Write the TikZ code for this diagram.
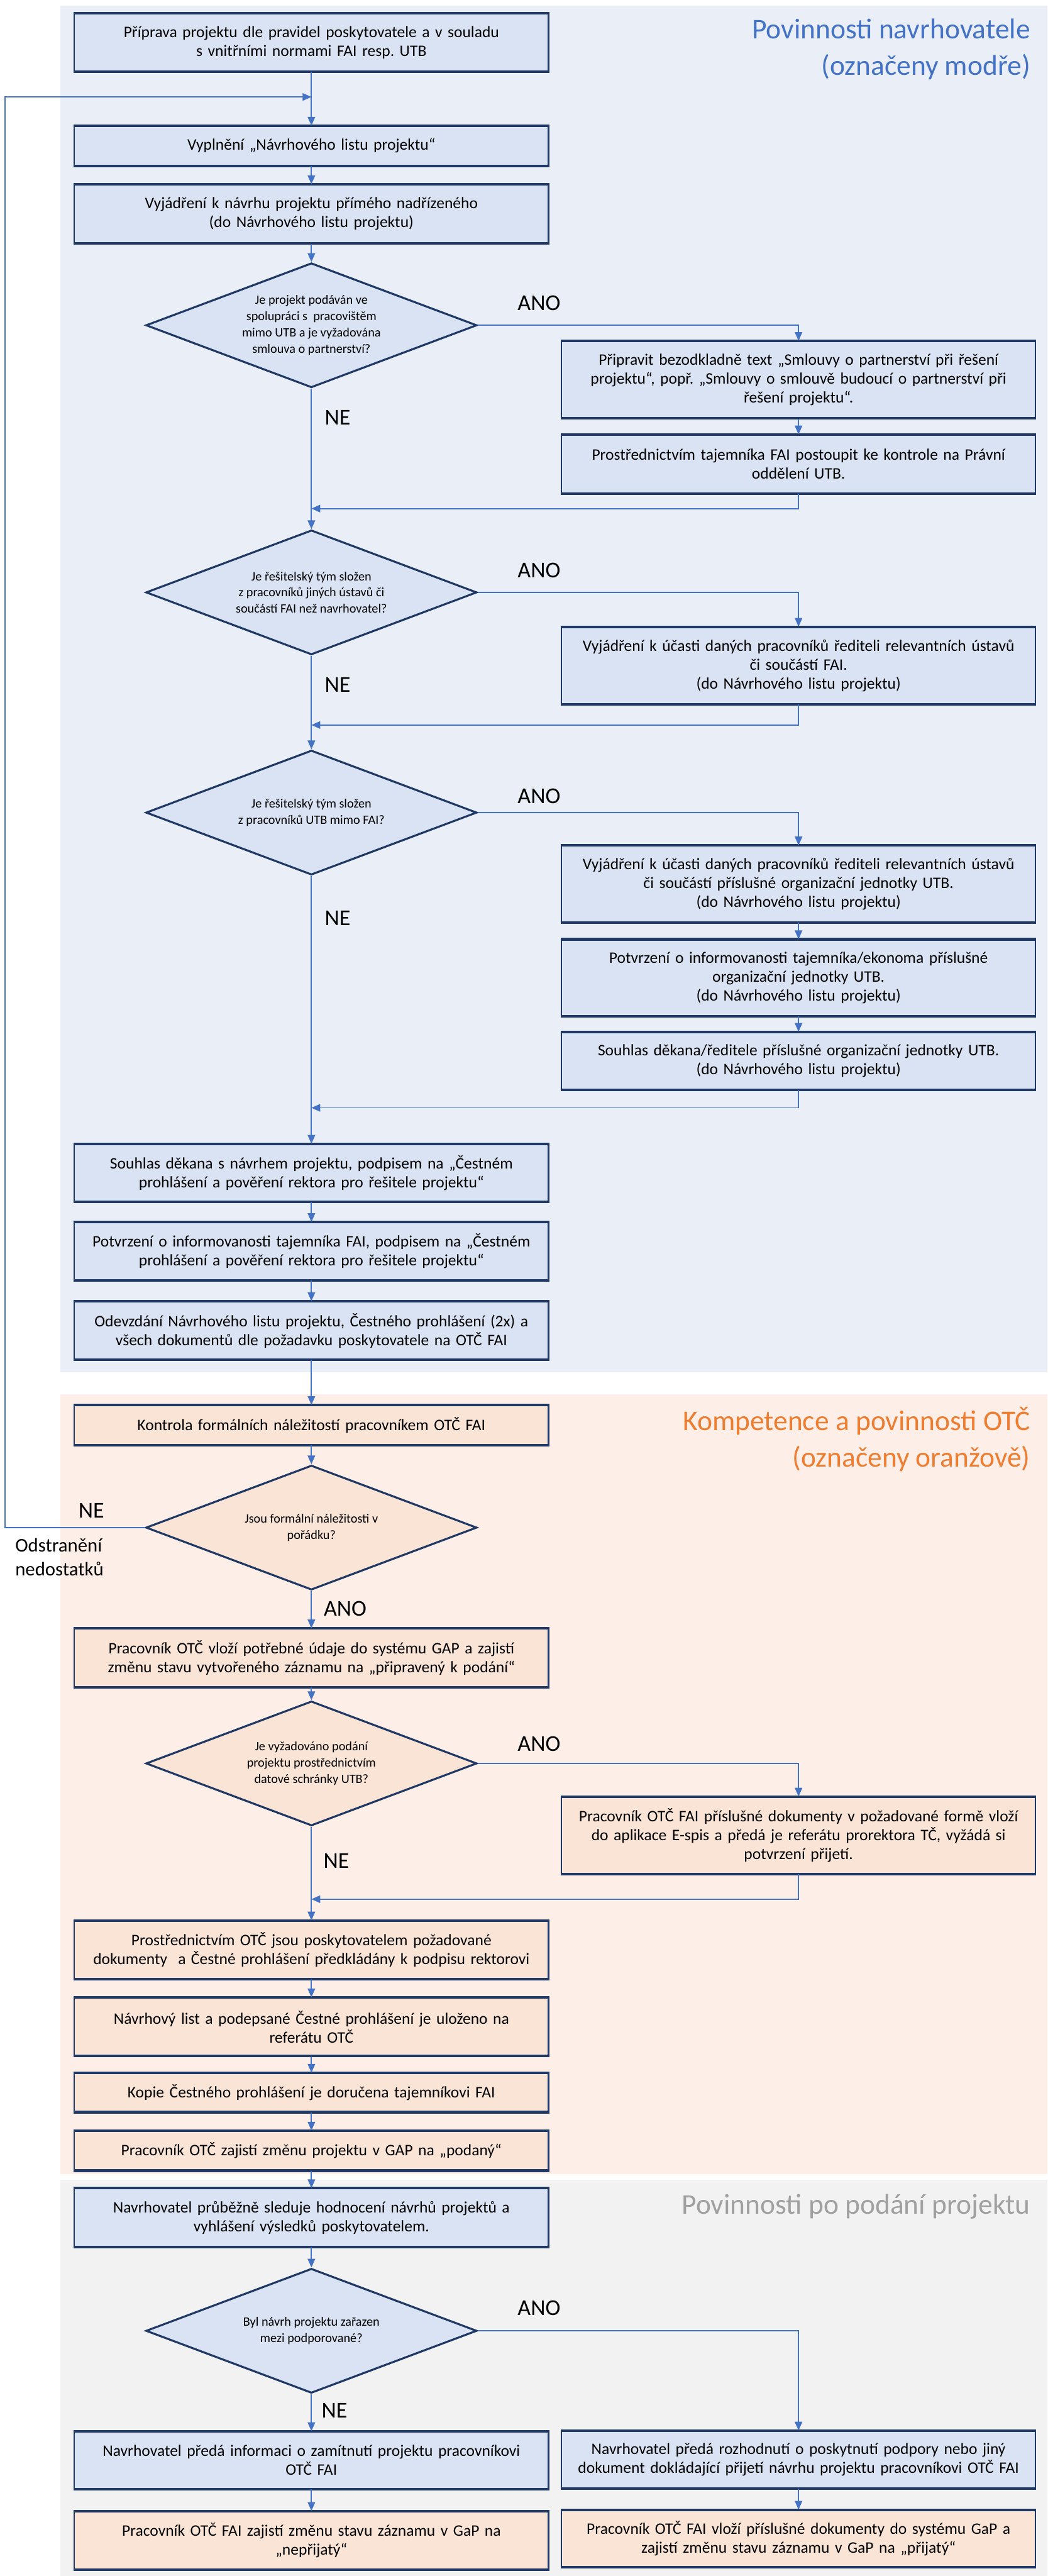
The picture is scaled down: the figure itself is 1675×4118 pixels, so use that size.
\documentclass[tikz,border=0pt]{standalone}
\usepackage{fontspec}
\setmainfont{Carlito}
\frenchspacing
\usetikzlibrary{arrows.meta, shapes.geometric}
\usepackage{xcolor}
\definecolor{lineblue}{RGB}{68, 114, 196}
\definecolor{boxblue}{RGB}{218, 227, 243}
\definecolor{boxorange}{RGB}{250, 228, 214}
\definecolor{panelblue}{RGB}{233, 238, 247}
\definecolor{panelorange}{RGB}{253, 239, 231}
\definecolor{panelgray}{RGB}{242, 242, 242}
\definecolor{navyline}{RGB}{31, 56, 100}
\definecolor{titleblue}{RGB}{68, 114, 196}
\definecolor{titleorange}{RGB}{237, 125, 49}
\definecolor{titlegray}{RGB}{160, 160, 160}

\tikzset{
  stepbox/.style={draw=navyline, line width=0.6pt, fill=boxblue, minimum width=7.58cm,
    text width=7.5cm, align=center, inner sep=0pt, font=\fontsize{7.3}{8.6}\selectfont},
  otcbox/.style={stepbox, fill=boxorange},
  rim/.style={draw=navyline, line width=1.1pt},
  ask/.style={diamond, draw=navyline, line width=0.9pt, fill=boxblue, aspect=2.66,
    minimum width=5.29cm, minimum height=1.99cm, inner sep=0pt, align=center,
    font=\fontsize{5.8}{7.4}\selectfont},
  askotc/.style={ask, fill=boxorange},
  flow/.style={-{Triangle[length=4pt, width=3.4pt]}, draw=lineblue, line width=0.5pt},
  yesno/.style={font=\fontsize{10.3}{12}\selectfont},
  lanetitle/.style={anchor=east, align=right, font=\fontsize{13}{16.5}\selectfont}
}

\begin{document}
\begin{tikzpicture}[x=0.01cm, y=-0.01cm]
\useasboundingbox (0,0) rectangle (1675,4118);

% lanes
\fill[panelblue] (97,9) rectangle (1675,2194);
\fill[panelorange] (97,2229) rectangle (1675,3476);
\fill[panelgray] (97,3485) rectangle (1675,4118);

\node[lanetitle, text=titleblue] (tnav) at (1660,79) {Povinnosti navrhovatele\\(označeny modře)};
\node[lanetitle, text=titleorange] (totc) at (1660,2301) {Kompetence a povinnosti OTČ\\(označeny oranžově)};
\node[lanetitle, text=titlegray] (tpod) at (1660,3527) {Povinnosti po podání projektu};

% navrhovatel
\node[stepbox, minimum height=0.92cm] (b1) at (498,68) {Příprava projektu dle pravidel poskytovatele a v souladu\\s vnitřními normami FAI resp. UTB};
\node[stepbox, minimum height=0.62cm] (b2) at (498,233) {Vyplnění „Návrhového listu projektu“};
\node[stepbox, minimum height=0.93cm] (b3) at (498,342) {Vyjádření k návrhu projektu přímého nadřízeného\\(do Návrhového listu projektu)};
\node[ask] (d1) at (498,520) {Je projekt podáván ve\\spolupráci s\ \ pracovištěm\\mimo UTB a je vyžadována\\smlouva o partnerství?};
\node[stepbox, minimum height=1.22cm] (a1) at (1277,607) {Připravit bezodkladně text „Smlouvy o partnerství při řešení\\projektu“, popř. „Smlouvy o smlouvě budoucí o partnerství při\\řešení projektu“.};
\node[stepbox, minimum height=0.93cm] (a2) at (1277,742) {Prostřednictvím tajemníka FAI postoupit ke kontrole na Právní\\oddělení UTB.};
\coordinate (j1) at (498,813);
\node[ask] (d2) at (498,947) {Je řešitelský tým složen\\z pracovníků jiných ústavů či\\součástí FAI než navrhovatel?};
\node[stepbox, minimum height=1.22cm] (a3) at (1277,1064) {Vyjádření k účasti daných pracovníků řediteli relevantních ústavů\\či součástí FAI.\\(do Návrhového listu projektu)};
\coordinate (j2) at (498,1159);
\node[ask] (d3) at (498,1299) {Je řešitelský tým složen\\z pracovníků UTB mimo FAI?};
\node[stepbox, minimum height=1.21cm] (a4) at (1277,1413) {Vyjádření k účasti daných pracovníků řediteli relevantních ústavů\\či součástí příslušné organizační jednotky UTB.\\(do Návrhového listu projektu)};
\node[stepbox, minimum height=1.21cm] (a5) at (1277,1563) {Potvrzení o informovanosti tajemníka/ekonoma příslušné\\organizační jednotky UTB.\\(do Návrhového listu projektu)};
\node[stepbox, minimum height=0.91cm] (a6) at (1277,1696) {Souhlas děkana/ředitele příslušné organizační jednotky UTB.\\(do Návrhového listu projektu)};
\coordinate (j3) at (498,1771);
\node[stepbox, minimum height=0.91cm] (b4) at (498,1875) {Souhlas děkana s návrhem projektu, podpisem na „Čestném\\prohlášení a pověření rektora pro řešitele projektu“};
\node[stepbox, minimum height=0.91cm] (b5) at (498,2000) {Potvrzení o informovanosti tajemníka FAI, podpisem na „Čestném\\prohlášení a pověření rektora pro řešitele projektu“};
\node[stepbox, minimum height=0.92cm] (b6) at (498,2127) {Odevzdání Návrhového listu projektu, Čestného prohlášení (2x) a\\všech dokumentů dle požadavku poskytovatele na OTČ FAI};

% OTČ
\node[otcbox, minimum height=0.62cm] (c1) at (498,2278) {Kontrola formálních náležitostí pracovníkem OTČ FAI};
\node[askotc] (d4) at (498,2442) {Jsou formální náležitosti v\\pořádku?};
\node[otcbox, minimum height=0.92cm] (c2) at (498,2650) {Pracovník OTČ vloží potřebné údaje do systému GAP a zajistí\\změnu stavu vytvořeného záznamu na „připravený k podání“};
\node[askotc] (d5) at (498,2819) {Je vyžadováno podání\\projektu prostřednictvím\\datové schránky UTB?};
\node[otcbox, minimum height=1.22cm] (c3) at (1277,2934) {Pracovník OTČ FAI příslušné dokumenty v požadované formě vloží\\do aplikace E-spis a předá je referátu prorektora TČ, vyžádá si\\potvrzení přijetí.};
\coordinate (j4) at (498,3036);
\node[otcbox, minimum height=0.92cm] (c4) at (498,3117) {Prostřednictvím OTČ jsou poskytovatelem požadované\\dokumenty\ \ a Čestné prohlášení předkládány k podpisu rektorovi};
\node[otcbox, minimum height=0.92cm] (c5) at (498,3240) {Návrhový list a podepsané Čestné prohlášení je uloženo na\\referátu OTČ};
\node[otcbox, minimum height=0.61cm] (c6) at (498,3345) {Kopie Čestného prohlášení je doručena tajemníkovi FAI};
\node[otcbox, minimum height=0.62cm] (c7) at (498,3438) {Pracovník OTČ zajistí změnu projektu v GAP na „podaný“};

% po podani
\node[stepbox, minimum height=0.92cm] (e1) at (498,3545) {Navrhovatel průběžně sleduje hodnocení návrhů projektů a\\vyhlášení výsledků poskytovatelem.};
\node[ask] (d6) at (498,3726) {Byl návrh projektu zařazen\\mezi podporované?};
\node[stepbox, minimum height=0.91cm] (e2) at (498,3933) {Navrhovatel předá informaci o zamítnutí projektu pracovníkovi\\OTČ FAI};
\node[stepbox, minimum height=0.91cm] (e3) at (1277,3932) {Navrhovatel předá rozhodnutí o poskytnutí podpory nebo jiný\\dokument dokládající přijetí návrhu projektu pracovníkovi OTČ FAI};
\node[otcbox, minimum height=0.92cm] (e4) at (498,4061) {Pracovník OTČ FAI zajistí změnu stavu záznamu v GaP na\\„nepřijatý“};
\node[otcbox, minimum height=0.90cm] (e5) at (1277,4058) {Pracovník OTČ FAI vloží příslušné dokumenty do systému GaP a\\zajistí změnu stavu záznamu v GaP na „přijatý“};

% thicker top and bottom edges
\foreach \n in {b1,b2,b3,a1,a2,a3,a4,a5,a6,b4,b5,b6,c1,c2,c3,c4,c5,c6,c7,e1,e2,e3,e4,e5}
  \draw[rim] (\n.north west) -- (\n.north east) (\n.south west) -- (\n.south east);

% labels
\node[yesno] (y1) at (862,485) {ANO};
\node[yesno] (n1) at (540,667) {NE};
\node[yesno] (y2) at (862,912) {ANO};
\node[yesno] (n2) at (540,1095) {NE};
\node[yesno] (y3) at (862,1273) {ANO};
\node[yesno] (n3) at (540,1468) {NE};
\node[yesno] (n4) at (146,2415) {NE};
\node[yesno, anchor=west, align=left, font=\fontsize{8.8}{10.8}\selectfont] (fix) at (12,2489) {Odstranění\\nedostatků};
\node[yesno] (y4) at (552,2572) {ANO};
\node[yesno] (y5) at (862,2788) {ANO};
\node[yesno] (n5) at (538,2975) {NE};
\node[yesno] (y6) at (862,3690) {ANO};
\node[yesno] (n6) at (535,3853) {NE};

% connectors
\coordinate (lp1) at (8,2442);
\coordinate (lp2) at (8,155);
\coordinate (j0) at (498,155);
\draw[flow] (b1) -- (b2);
\draw[flow] (b2) -- (b3);
\draw[flow] (b3) -- (d1);
\draw[flow] (d1.east) -| (a1.north);
\draw[flow] (a1) -- (a2);
\draw[flow] (a2.south) |- (j1);
\draw[flow] (d1) -- (d2);
\draw[flow] (d2.east) -| (a3.north);
\draw[flow] (a3.south) |- (j2);
\draw[flow] (d2) -- (d3);
\draw[flow] (d3.east) -| (a4.north);
\draw[flow] (a4) -- (a5);
\draw[flow] (a5) -- (a6);
\draw[flow] (a6.south) |- (j3);
\draw[flow] (d3) -- (b4);
\draw[flow] (b4) -- (b5);
\draw[flow] (b5) -- (b6);
\draw[flow] (b6) -- (c1);
\draw[flow] (c1) -- (d4);
\draw[flow] (d4.west) -- (lp1) -- (lp2) -- (j0);
\draw[flow] (d4) -- (c2);
\draw[flow] (c2) -- (d5);
\draw[flow] (d5.east) -| (c3.north);
\draw[flow] (c3.south) |- (j4);
\draw[flow] (d5) -- (c4);
\draw[flow] (c4) -- (c5);
\draw[flow] (c5) -- (c6);
\draw[flow] (c6) -- (c7);
\draw[flow] (c7) -- (e1);
\draw[flow] (e1) -- (d6);
\draw[flow] (d6) -- (e2);
\draw[flow] (d6.east) -| (e3.north);
\draw[flow] (e2) -- (e4);
\draw[flow] (e3) -- (e5);
\end{tikzpicture}
\end{document}
